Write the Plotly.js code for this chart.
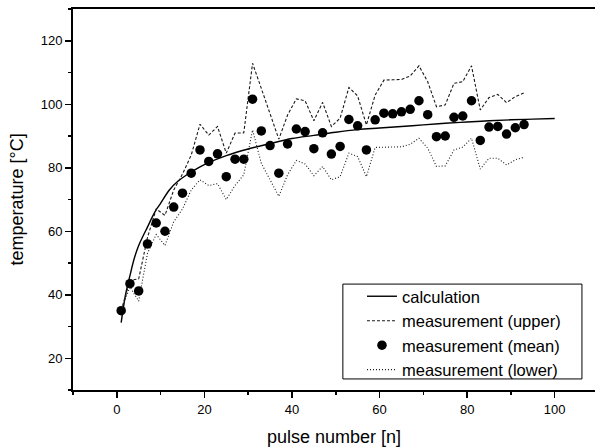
<!DOCTYPE html>
<html>
<head>
<meta charset="utf-8">
<script src="https://cdn.plot.ly/plotly-3.0.1.min.js"></script>
<style>html,body{margin:0;padding:0;background:#fff;}#chart{width:595px;height:447px;}</style>
</head>
<body>
<div id="chart"></div>
<script>
// Calculation curve
var calcX = [1, 2, 3, 4, 5, 6, 7, 8, 9, 10, 12, 14, 16, 18, 20, 25, 30, 35, 40, 45, 50, 55, 60, 65, 70, 75, 80, 85, 90, 95, 100];
var calcY = [31.2, 40, 46, 51.5, 55.5, 58.5, 61.3, 64.2, 66.8, 68.8, 73, 75.8, 77.8, 79.5, 81, 83.8, 85.9, 87.6, 89.2, 90.2, 91.2, 92, 92.5, 93, 93.5, 94, 94.4, 94.8, 95.1, 95.3, 95.5];

// Measurement pulse numbers
var measX = [1, 3, 5, 7, 9, 11, 13, 15, 17, 19, 21, 23, 25, 27, 29, 31, 33, 35, 37, 39, 41, 43, 45, 47, 49, 51, 53, 55, 57, 59, 61, 63, 65, 67, 69, 71, 73, 75, 77, 79, 81, 83, 85, 87, 89, 91, 93];

var meanY = [35, 43.5, 41.2, 56, 62.6, 60, 67.6, 72, 78.3, 85.6, 82, 84.4, 77.2, 82.7, 82.7, 101.6, 91.6, 87, 78.3, 87.5, 92.2, 91.4, 86, 91, 84.3, 86.7, 95.2, 93.2, 85.6, 95.1, 97.2, 97, 97.6, 98.4, 101.1, 96.7, 89.8, 90, 95.9, 96.3, 101.1, 88.6, 92.8, 93, 90.6, 92.6, 93.6];

var upperY = [35, 44.5, 45, 58, 67, 65, 73, 78, 84, 93.7, 90.3, 93, 84.6, 90.9, 91, 112.9, 105, 97, 89, 96.6, 101.7, 101.1, 94.8, 100.6, 93, 95.6, 105.3, 102.6, 93.5, 102.9, 107.6, 107.7, 107.8, 108.9, 112.1, 107.1, 99.2, 99.8, 106.6, 107.1, 112.1, 98.2, 102.1, 103.1, 100.5, 102.4, 103.6];

var lowerY = [35, 42.5, 38, 53, 59, 55.5, 63, 67, 73, 76.2, 74.4, 75, 70, 74.4, 77.8, 91.9, 81.4, 76.2, 71, 77.8, 82.3, 81.2, 77.5, 80.4, 76.2, 77.2, 84.6, 83.5, 77.2, 86.4, 86.5, 86.4, 86.6, 87.4, 89.3, 86.2, 80.4, 80.6, 85.6, 86.5, 89.3, 79.6, 83, 83, 80.9, 82.5, 83.3];

var names = ['calculation', 'measurement (upper)', 'measurement (mean)', 'measurement (lower)'];
var xTitle = 'pulse number [n]';
var yTitle = 'temperature [°C]';

var FONT = 'Liberation Sans, Arial, sans-serif';

var traces = [
  {x: calcX, y: calcY, name: names[0], mode: 'lines', line: {color: '#000', width: 1.4, shape: 'spline'}},
  {x: measX, y: upperY, name: names[1], mode: 'lines', line: {color: '#1a1a1a', width: 1.1, dash: '3px,2px'}},
  {x: measX, y: meanY, name: names[2], mode: 'markers', marker: {color: '#000', size: 9.5}},
  {x: measX, y: lowerY, name: names[3], mode: 'lines', line: {color: '#1a1a1a', width: 1.1, dash: '1px,2px'}}
];

var layout = {
  width: 595, height: 447,
  margin: {l: 73, r: 0, t: 9, b: 57, pad: 0},
  paper_bgcolor: '#fff', plot_bgcolor: '#fff',
  font: {family: FONT, color: '#000', size: 13},
  showlegend: true,
  legend: {
    x: 0.5536, y: 0.2913, xanchor: 'left', yanchor: 'top',
    bgcolor: 'rgba(0,0,0,0)', borderwidth: 0,
    font: {family: FONT, size: 16.5, color: '#000'},
    tracegroupgap: 0
  },
  shapes: [
    {type: 'rect', xref: 'paper', yref: 'paper', x0: 0.517, x1: 0.975, y0: 0.029, y1: 0.278,
     line: {color: '#000', width: 1}, fillcolor: '#fff', layer: 'below'}
  ],
  xaxis: {
    range: [-10, 109.2], showgrid: false, zeroline: false,
    showline: true, linecolor: '#000', linewidth: 2, mirror: true,
    ticks: 'outside', ticklen: 6, tickwidth: 1.5, tickcolor: '#000',
    tick0: 0, dtick: 20,
    minor: {dtick: 10, tick0: 0, ticks: 'outside', ticklen: 3, tickwidth: 1.5, tickcolor: '#000'},
    tickfont: {family: FONT, size: 13},
    title: {text: xTitle, font: {family: FONT, size: 18}, standoff: 18}
  },
  yaxis: {
    range: [10, 130], showgrid: false, zeroline: false,
    showline: true, linecolor: '#000', linewidth: 2, mirror: false,
    ticks: 'outside', ticklen: 6, tickwidth: 1.5, tickcolor: '#000',
    tick0: 0, dtick: 20,
    minor: {dtick: 10, tick0: 0, ticks: 'outside', ticklen: 3, tickwidth: 1.5, tickcolor: '#000'},
    tickfont: {family: FONT, size: 13},
    title: {text: yTitle, font: {family: FONT, size: 18}, standoff: 12}
  }
};

Plotly.newPlot('chart', traces, layout, {displayModeBar: false, staticPlot: true});
</script>
</body>
</html>
